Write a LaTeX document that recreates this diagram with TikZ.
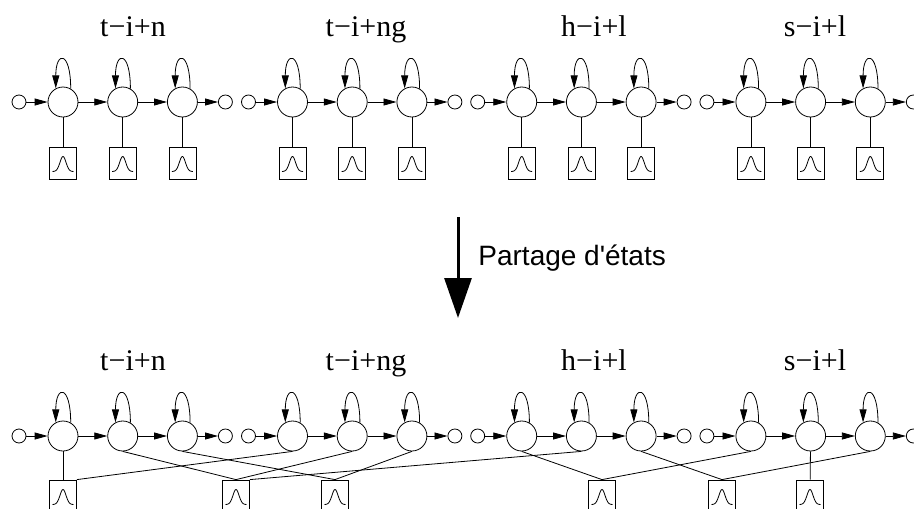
\documentclass[tikz,border=0pt]{standalone}
\usepackage{fontspec}
\setmainfont{Liberation Serif}
\newfontfamily\arrowfont{Liberation Sans}[Ligatures=TeXOff]
\usetikzlibrary{arrows.meta}

\tikzset{
  state/.style={circle,draw,minimum size=30pt,inner sep=0pt},
  dot/.style={circle,draw,minimum size=14pt,inner sep=0pt},
  pdf/.style={rectangle,draw,minimum width=27pt,minimum height=32pt,inner sep=0pt,
    path picture={\draw[shift={(path picture bounding box.center)}]
      plot[domain=-10.5:10.5,samples=41,smooth]
      (\x pt,{(-8.5+15*exp(-(\x/4.3)*(\x/4.3)))*1pt});}},
  tr/.style={-{Triangle[length=13pt,width=7pt]}},
  word/.style={anchor=base,inner sep=0pt,font=\fontsize{30}{36}\selectfont}
}

\begin{document}
\begin{tikzpicture}[x=1pt,y=-1pt,line width=0.8pt]
\clip (0,0) rectangle (914,509);

% the four models, before and after sharing
\foreach \gi/\gx/\lx/\txt in {1/63/133/t−i+n, 2/292.5/366/t−i+ng, 3/521.7/594/h−i+l, 4/750.9/815/s−i+l} {
  \foreach \row/\ry in {t/102,b/436} {
    \node (\row l\gi) [word] at (\lx,{\ry-66}) {\txt};
    \node (\row s\gi) [dot] at ({\gx-44},\ry) {};
    \foreach \k in {1,2,3}
      \node (\row\gi\k) [state] at ({\gx+59.7*(\k-1)},\ry) {};
    \node (\row e\gi) [dot] at ({\gx+162.4},\ry) {};
    \draw[tr] (\row s\gi) -- (\row\gi1);
    \draw[tr] (\row\gi1) -- (\row\gi2);
    \draw[tr] (\row\gi2) -- (\row\gi3);
    \draw[tr] (\row\gi3) -- (\row e\gi);
    \foreach \k in {1,2,3}
      \draw[tr] (\row\gi\k.60) .. controls +(0,-38) and +(0,-38) .. (\row\gi\k.118);
  }
  % one density per state on top
  \foreach \k in {1,2,3} {
    \node (q\gi\k) [pdf] at ({\gx+59.7*(\k-1)},163) {};
    \draw (t\gi\k) -- (q\gi\k);
  }
}

% shared densities
\node (p1) [pdf] at (63,496) {};
\node (p2) [pdf] at (236,496) {};
\node (p3) [pdf] at (335,496) {};
\node (p4) [pdf] at (602,496) {};
\node (p5) [pdf] at (722,496) {};
\node (p6) [pdf] at (810,496) {};
\draw (b11) -- (p1);
\draw (p1.north east) -- (b21.south);
\draw (b12.south) -- (p2.north);
\draw (b22.south) -- (p2.north);
\draw (p2.north east) -- (b32.south);
\draw (b13.south) -- (p3.north);
\draw (b23.south) -- (p3.north);
\draw (b31.south) -- (p4.north);
\draw (b41.south) -- (p4.north);
\draw (b33.south) -- (p5.north);
\draw (b43.south) -- (p5.north);
\draw (b42) -- (p6);

% sharing step
\coordinate (from) at (458,217);
\coordinate (to) at (458,318);
\draw[line width=3pt,-{Triangle[length=40pt,width=27pt]}] (from) -- (to);
\node (share) [anchor=base west,inner sep=0pt,font=\arrowfont\fontsize{28}{32}\selectfont] at (478,265) {Partage d'états};
\end{tikzpicture}
\end{document}
